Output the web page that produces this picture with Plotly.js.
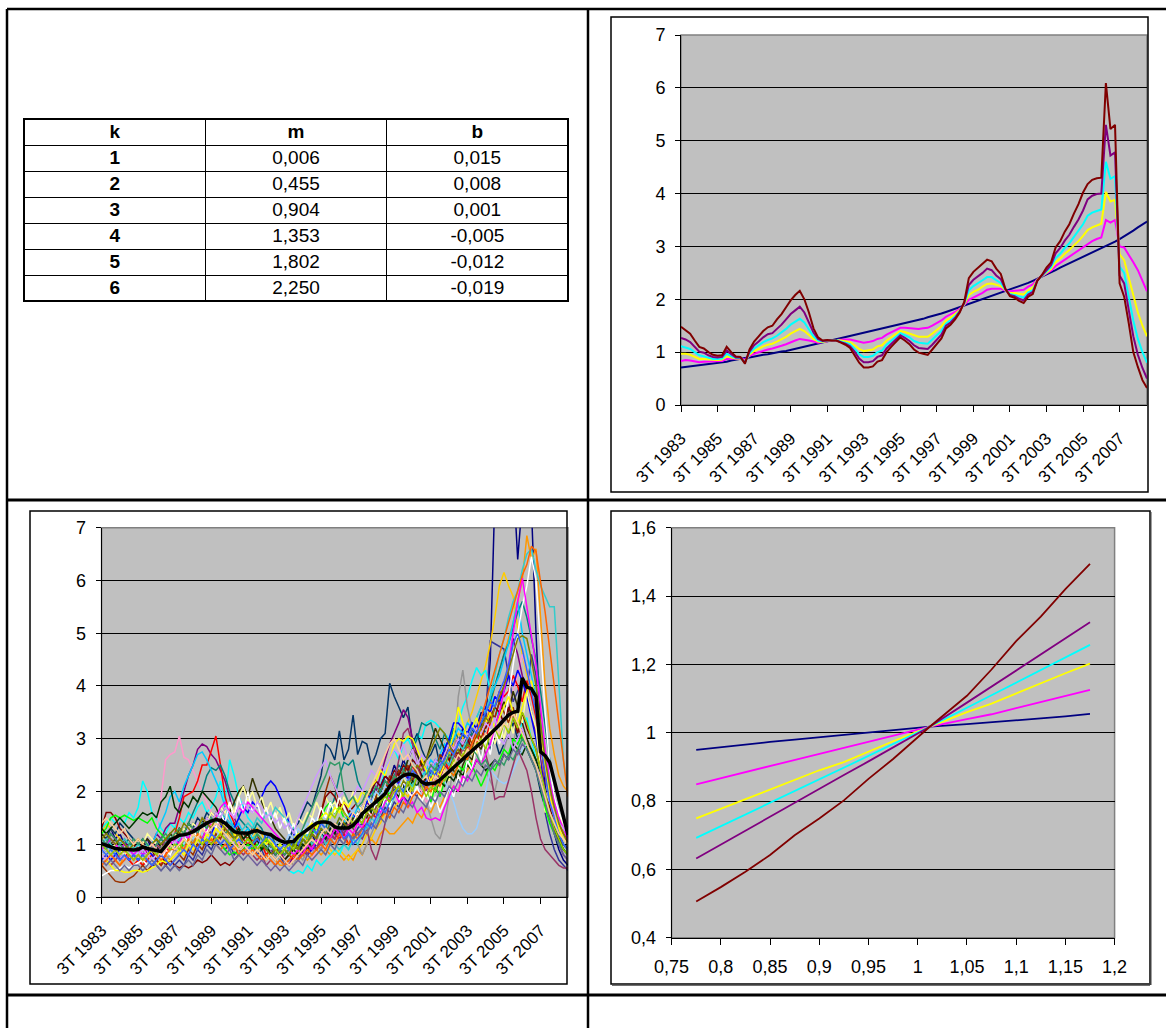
<!DOCTYPE html>
<html>
<head>
<meta charset="utf-8">
<script src="https://cdn.plot.ly/plotly-3.0.1.min.js"></script>
<style>
  html, body { margin: 0; padding: 0; background: #ffffff; }
  #page { width: 1166px; height: 1028px; }
</style>
</head>
<body>
<div id="page"></div>
<script>
// ---------- parameter table ----------
const tableHeader = ['k', 'm', 'b'];
const kVals = [1, 2, 3, 4, 5, 6];
const mVals = [0.006, 0.455, 0.904, 1.353, 1.802, 2.250];
const bVals = [0.015, 0.008, 0.001, -0.005, -0.012, -0.019];

// ---------- quarterly categories: 3T 1983 .. 1T 2009 ----------
const quarters = [];
for (let y = 1983; y <= 2009; y++) {
  for (let q = 1; q <= 4; q++) {
    if ((y === 1983 && q < 3) || (y === 2009 && q > 1)) continue;
    quarters.push(q + 'T ' + y);
  }
}
const timeTicks = ['3T 1983','3T 1985','3T 1987','3T 1989','3T 1991','3T 1993','3T 1995',
                   '3T 1997','3T 1999','3T 2001','3T 2003','3T 2005','3T 2007'];

// ---------- transformed series, k = 1..6 ----------
const seriesK1 = [0.71,0.72,0.73,0.74,0.75,0.76,0.78,0.79,0.80,0.81,0.82,0.84,
  0.86,0.87,0.89,0.90,0.92,0.93,0.95,0.96,0.98,0.99,1.01,1.02,
  1.04,1.06,1.08,1.10,1.12,1.14,1.16,1.18,1.20,1.22,1.24,1.26,
  1.28,1.30,1.32,1.34,1.36,1.38,1.40,1.42,1.44,1.46,1.48,1.50,
  1.53,1.55,1.57,1.59,1.61,1.63,1.66,1.68,1.71,1.73,1.76,1.79,
  1.82,1.85,1.88,1.91,1.94,1.97,2.00,2.03,2.06,2.09,2.12,2.15,
  2.18,2.21,2.24,2.27,2.31,2.35,2.39,2.43,2.46,2.50,2.55,2.60,
  2.64,2.68,2.72,2.76,2.80,2.84,2.88,2.92,2.96,3.00,3.04,3.09,
  3.14,3.19,3.24,3.30,3.36,3.42,3.47];
const seriesK2 = [0.83,0.85,0.84,0.83,0.81,0.82,0.82,0.82,0.82,0.83,0.87,0.87,
  0.87,0.88,0.86,0.93,0.97,1.00,1.03,1.05,1.07,1.09,1.12,1.15,
  1.19,1.22,1.25,1.24,1.22,1.20,1.18,1.19,1.21,1.22,1.23,1.24,
  1.24,1.24,1.22,1.19,1.18,1.19,1.21,1.25,1.27,1.33,1.37,1.42,
  1.46,1.46,1.45,1.44,1.44,1.45,1.46,1.50,1.55,1.60,1.67,1.71,
  1.76,1.82,1.89,1.99,2.03,2.07,2.12,2.18,2.20,2.20,2.20,2.16,
  2.15,2.16,2.17,2.18,2.24,2.28,2.38,2.44,2.49,2.54,2.63,2.69,
  2.75,2.80,2.86,2.93,2.99,3.05,3.10,3.14,3.17,3.50,3.45,3.50,
  3.00,2.98,2.85,2.70,2.55,2.35,2.15];
const seriesK3 = [0.97,0.97,0.95,0.91,0.87,0.87,0.86,0.85,0.85,0.86,0.92,0.90,
  0.88,0.88,0.83,0.95,1.02,1.06,1.11,1.14,1.16,1.20,1.24,1.29,
  1.35,1.40,1.44,1.40,1.33,1.25,1.20,1.19,1.21,1.22,1.23,1.22,
  1.21,1.19,1.13,1.06,1.02,1.03,1.05,1.11,1.13,1.22,1.28,1.34,
  1.40,1.38,1.35,1.31,1.29,1.29,1.29,1.35,1.42,1.49,1.60,1.65,
  1.72,1.80,1.90,2.08,2.14,2.18,2.24,2.29,2.30,2.28,2.25,2.17,
  2.12,2.12,2.10,2.09,2.17,2.22,2.37,2.44,2.51,2.57,2.70,2.77,
  2.86,2.93,3.02,3.10,3.20,3.31,3.36,3.40,3.43,4.03,3.85,3.88,
  2.85,2.74,2.40,2.05,1.75,1.50,1.30];
const seriesK4 = [1.11,1.09,1.06,1.00,0.94,0.92,0.90,0.87,0.87,0.88,0.97,0.92,
  0.89,0.89,0.81,0.98,1.07,1.13,1.19,1.23,1.26,1.31,1.37,1.44,
  1.52,1.58,1.63,1.56,1.44,1.30,1.22,1.20,1.22,1.22,1.23,1.20,
  1.18,1.15,1.06,0.96,0.91,0.91,0.93,1.00,1.03,1.14,1.21,1.29,
  1.36,1.32,1.28,1.21,1.18,1.17,1.16,1.24,1.32,1.40,1.54,1.60,
  1.68,1.78,1.92,2.17,2.25,2.30,2.36,2.42,2.42,2.36,2.31,2.18,
  2.10,2.08,2.05,2.03,2.13,2.17,2.36,2.45,2.53,2.61,2.78,2.86,
  2.97,3.06,3.18,3.29,3.42,3.58,3.64,3.67,3.70,4.60,4.28,4.33,
  2.62,2.50,2.05,1.60,1.25,1.00,0.80];
const seriesK5 = [1.27,1.24,1.19,1.10,1.01,0.99,0.94,0.91,0.90,0.91,1.03,0.96,
  0.90,0.90,0.80,1.01,1.13,1.20,1.28,1.34,1.36,1.44,1.52,1.62,
  1.72,1.79,1.86,1.75,1.57,1.37,1.25,1.21,1.22,1.22,1.22,1.19,
  1.16,1.11,1.01,0.88,0.81,0.81,0.83,0.91,0.94,1.07,1.16,1.25,
  1.32,1.27,1.21,1.13,1.08,1.07,1.06,1.14,1.23,1.33,1.50,1.56,
  1.65,1.77,1.93,2.27,2.37,2.43,2.50,2.58,2.55,2.45,2.38,2.19,
  2.08,2.06,2.01,1.98,2.09,2.14,2.36,2.45,2.56,2.65,2.87,2.97,
  3.11,3.22,3.37,3.51,3.68,3.89,3.96,3.99,4.00,5.30,4.72,4.78,
  2.45,2.30,1.80,1.30,0.95,0.70,0.50];
const seriesK6 = [1.48,1.42,1.35,1.22,1.10,1.07,1.00,0.95,0.93,0.94,1.10,1.00,
  0.92,0.91,0.78,1.05,1.20,1.30,1.40,1.47,1.50,1.62,1.72,1.85,
  1.98,2.08,2.16,2.00,1.75,1.45,1.28,1.22,1.23,1.22,1.22,1.18,
  1.14,1.08,0.95,0.80,0.71,0.71,0.73,0.82,0.85,1.00,1.10,1.20,
  1.28,1.22,1.15,1.05,0.99,0.97,0.95,1.05,1.15,1.26,1.45,1.52,
  1.62,1.75,1.95,2.40,2.52,2.60,2.68,2.75,2.72,2.58,2.48,2.20,
  2.06,2.03,1.97,1.93,2.05,2.10,2.35,2.46,2.60,2.70,2.98,3.10,
  3.28,3.42,3.62,3.80,4.02,4.18,4.26,4.29,4.30,6.09,5.22,5.30,
  2.30,2.05,1.55,1.00,0.72,0.47,0.32];

// ---------- response curves ----------
const ratioX = [0.775,0.8,0.825,0.85,0.875,0.9,0.925,0.95,0.975,1.0125,1.05,1.075,1.1,1.125,1.15,1.175];
const curveK1 = [0.950,0.958,0.967,0.973,0.980,0.987,0.993,1.000,1.006,1.018,1.025,1.030,1.036,1.042,1.048,1.055];
const curveK2 = [0.849,0.867,0.885,0.903,0.921,0.939,0.957,0.975,0.993,1.018,1.040,1.054,1.072,1.090,1.107,1.125];
const curveK3 = [0.749,0.777,0.806,0.834,0.862,0.890,0.914,0.945,0.975,1.018,1.060,1.085,1.115,1.145,1.174,1.202];
const curveK4 = [0.692,0.726,0.761,0.795,0.829,0.864,0.898,0.932,0.967,1.018,1.073,1.110,1.147,1.184,1.220,1.257];
const curveK5 = [0.632,0.673,0.713,0.754,0.795,0.835,0.876,0.916,0.957,1.018,1.088,1.135,1.182,1.229,1.276,1.323];
const curveK6 = [0.506,0.548,0.593,0.642,0.700,0.749,0.802,0.865,0.923,1.018,1.108,1.185,1.268,1.340,1.420,1.494];
const ratioTicks = [0.75,0.8,0.85,0.9,0.95,1,1.05,1.1,1.15,1.2];
const ratioTickText = ['0,75','0,8','0,85','0,9','0,95','1','1,05','1,1','1,15','1,2'];
const levelTicks = [0.4,0.6,0.8,1,1.2,1.4,1.6];
const levelTickText = ['0,4','0,6','0,8','1','1,2','1,4','1,6'];

// ---------- individual regional series and their mean ----------
const meanSeries = [1.01,0.98,0.94,0.92,0.91,0.90,0.89,0.89,
  0.90,0.95,0.92,0.90,0.88,0.86,0.97,1.08,
  1.12,1.17,1.18,1.20,1.24,1.30,1.34,1.40,
  1.44,1.47,1.45,1.40,1.32,1.24,1.22,1.21,
  1.21,1.24,1.26,1.22,1.20,1.18,1.12,1.07,
  1.04,1.04,1.05,1.15,1.21,1.28,1.34,1.40,
  1.42,1.42,1.40,1.33,1.31,1.31,1.31,1.36,
  1.45,1.58,1.65,1.72,1.80,1.88,1.96,2.10,
  2.18,2.25,2.30,2.33,2.32,2.28,2.18,2.14,
  2.15,2.16,2.22,2.30,2.38,2.45,2.55,2.62,
  2.70,2.78,2.85,2.92,3.00,3.08,3.17,3.26,
  3.36,3.45,3.50,3.52,4.15,3.98,3.95,3.80,
  2.75,2.68,2.55,2.20,1.85,1.55,1.18];

const s01 = [1.3,1.2,1.3,1.1,1.2,1.0,1.1,1.0, 0.9,1.0,1.1,0.9,1.0,0.8,0.9,1.1, 1.2,1.1,1.3,1.2,1.4,1.3,1.5,1.4, 1.6,1.5,1.4,1.2,1.3,1.1,1.0,1.1, 1.2,1.0,1.1,0.9,1.0,0.8,0.9,0.8, 0.7,0.8,0.9,1.0,0.9,1.1,1.2,1.0, 1.3,1.2,1.4,1.3,1.2,1.5,1.4,1.6, 1.5,1.7,1.9,1.8,2.1,2.0,2.3,2.2, 2.5,2.3,2.6,2.4,2.2,2.5,2.3,2.1, 2.4,2.3,2.6,2.8,2.7,3.0,2.9,3.2, 3.1,3.3,3.2,3.5,3.4,4.5,7.6,8.4, 9.0,8.8,8.0,6.4,7.8,8.6,7.4,5.0, 3.2,2.1,1.6,1.2,0.9,0.7,0.6];
const s02 = [1.0,0.9,0.8,0.9,0.7,0.8,0.7,0.8, 0.7,0.6,0.7,0.6,0.6,0.5,0.6,0.5, 0.6,0.7,0.6,0.8,0.7,0.9,0.8,1.0, 0.9,1.1,1.0,0.9,1.0,0.8,0.9,1.0, 0.9,1.0,0.8,0.9,0.7,0.8,0.7,0.8, 0.6,0.7,0.8,0.7,0.9,0.8,0.9,1.0, 0.9,1.1,1.0,1.2,1.1,1.3,1.2,1.1, 1.3,1.4,1.3,1.5,1.6,1.5,1.7,1.6, 1.8,1.7,1.9,1.8,2.0,1.9,2.2,2.1, 2.3,2.4,2.3,2.6,2.5,2.8,2.7,2.9, 3.0,3.2,3.1,3.3,3.4,4.85,4.8,4.75, 4.7,4.2,3.7,3.9,4.1,3.9,4.6,4.2, 2.5,1.6,1.2,0.9,0.7,0.6,0.5];
const s03 = [0.6,0.7,0.6,0.7,0.6,0.8,0.7,0.6, 0.7,0.6,0.8,0.7,0.6,0.7,0.8,0.7, 0.8,0.9,0.8,1.0,0.9,1.1,1.0,1.2, 1.1,1.0,1.2,1.1,1.0,0.9,1.0,0.9, 0.9,0.8,0.9,0.8,0.7,0.8,0.7,0.6, 0.6,0.7,0.6,0.7,0.8,0.7,0.8,0.9, 0.8,0.9,0.8,0.9,0.8,0.7,0.8,0.7, 0.9,0.8,1.0,1.1,1.0,1.2,1.3,1.2, 1.2,1.3,1.4,1.5,1.4,1.6,1.5,1.7, 1.6,1.8,1.7,1.9,2.0,2.1,2.0,2.3, 2.4,2.6,2.8,3.0,3.3,3.6,4.0,4.3, 4.6,4.9,5.2,5.6,6.0,6.85,6.4,6.6, 5.2,4.0,3.2,2.7,2.3,2.1,2.0];
const s04 = [1.2,1.4,1.3,1.2,1.1,1.0,1.1,0.9, 0.9,1.0,0.8,0.9,0.8,0.7,0.8,0.9, 1.0,0.9,1.1,1.0,1.2,1.1,1.3,1.2, 1.4,1.3,1.2,1.3,1.1,1.2,1.0,1.1, 1.2,1.1,1.3,1.2,1.0,1.1,0.9,1.0, 0.9,0.8,0.9,1.0,0.9,1.1,1.0,0.9, 1.1,1.0,0.9,0.8,0.9,0.8,0.7,0.8, 0.9,1.0,1.2,1.1,1.3,1.4,1.6,1.5, 1.7,1.8,2.0,1.9,2.1,2.3,2.2,2.4, 2.3,2.5,2.6,2.4,2.7,2.9,3.1,3.0, 3.3,3.5,3.8,4.1,4.4,4.8,5.3,5.9, 6.15,5.9,5.7,5.1,4.6,4.2,3.9,3.6, 3.2,2.6,2.1,1.7,1.4,1.2,1.1];
const s05 = [1.3,1.4,1.5,1.4,1.5,1.4,1.6,1.5, 1.7,2.2,2.0,1.6,1.5,1.3,1.2,1.4, 1.3,1.5,1.4,1.6,1.5,1.7,1.8,1.6, 1.7,1.9,2.2,1.8,2.6,2.3,1.9,1.7, 1.5,1.4,1.2,1.1,1.0,0.9,0.8,0.7, 0.6,0.5,0.45,0.5,0.45,0.6,0.5,0.7, 0.6,0.7,0.8,0.9,0.8,1.0,0.9,1.1, 1.2,1.1,1.4,1.6,1.9,2.1,2.4,2.6, 2.8,2.6,2.9,3.0,2.8,3.1,3.0,3.3, 3.35,3.3,3.2,3.1,3.0,3.2,3.3,3.6, 3.8,4.1,4.35,4.2,4.3,3.9,3.6,3.4, 3.3,3.2,3.4,3.1,3.3,3.4,3.0,2.6, 2.3,1.9,1.6,1.3,1.0,0.9,0.8];
const s06 = [0.9,1.0,0.9,0.8,0.9,0.8,0.7,0.8, 0.7,0.8,0.7,0.6,0.7,0.8,0.7,0.8, 0.9,0.8,1.0,0.9,1.1,1.0,0.9,1.1, 1.2,1.1,1.3,1.2,1.0,1.1,1.2,1.0, 1.1,1.0,0.9,1.0,0.8,0.9,0.8,0.7, 0.6,0.7,0.6,0.8,0.7,0.9,0.8,1.0, 0.9,1.1,1.0,1.2,1.1,1.0,1.2,1.1, 1.0,0.8,1.0,1.2,1.4,1.6,1.8,2.0, 2.2,2.0,2.3,2.1,2.4,2.2,2.0,1.8, 1.5,1.2,1.1,1.4,1.9,2.6,3.8,4.3, 3.6,3.2,3.0,2.7,2.4,2.2,2.0,2.4, 2.8,3.1,2.9,3.3,3.0,2.8,2.6,2.5, 2.6,2.3,2.0,1.7,1.5,1.3,1.2];
const s07 = [1.2,1.1,1.3,1.2,1.4,1.3,1.2,1.1, 1.0,1.1,0.9,1.0,1.1,0.9,1.0,1.2, 1.1,1.3,1.2,1.4,1.3,1.5,1.4,1.6, 1.5,1.4,1.6,1.5,1.3,1.4,1.2,1.1, 1.2,1.0,1.1,0.9,1.0,0.8,0.9,1.0, 0.9,1.1,1.3,1.4,1.6,1.8,1.7,2.0, 2.3,2.9,2.8,2.6,3.15,2.6,2.8,3.45, 2.7,2.95,2.9,2.5,2.7,3.0,3.1,4.05, 3.8,3.6,3.4,3.6,2.9,3.1,2.8,2.6, 2.7,2.9,2.5,2.8,3.0,2.7,2.9,3.1, 2.9,3.2,3.0,3.3,3.1,2.8,3.0,2.7, 2.9,3.1,3.3,3.0,3.2,2.8,2.6,2.4, 2.0,1.7,1.5,1.3,1.1,1.0,0.9];
const s08 = [0.8,0.7,0.8,0.9,0.8,0.7,0.8,0.9, 0.8,0.9,1.0,0.9,1.2,1.9,2.6,2.7, 2.75,3.05,2.65,2.6,2.4,2.2,2.0,1.8, 1.6,1.5,1.3,1.4,1.2,1.1,1.0,0.9, 0.8,0.7,0.6,0.7,0.6,0.5,0.6,0.5, 0.6,0.5,0.6,0.7,0.6,0.8,0.7,0.9, 1.0,0.9,1.1,1.0,1.2,1.1,1.3,1.2, 1.4,1.3,1.5,1.7,1.6,1.8,2.0,1.9, 2.1,2.3,2.2,2.0,1.9,2.1,2.0,1.8, 1.9,2.1,2.0,2.2,2.4,2.3,2.5,2.7, 2.6,2.8,2.7,2.9,3.1,3.0,3.2,3.4, 3.3,3.6,3.9,4.2,4.6,4.3,4.0,3.6, 3.0,2.4,1.9,1.5,1.2,1.0,0.9];
const s09 = [1.1,1.0,1.2,1.1,1.0,1.1,0.9,1.0, 0.9,1.0,1.1,1.0,1.2,1.1,1.3,1.4, 1.4,1.7,2.0,2.3,2.5,2.8,2.9,2.85, 2.7,2.6,2.4,2.2,1.9,1.5,1.3,1.2, 1.1,1.3,1.2,1.0,1.1,0.9,0.8,0.9, 0.7,0.6,0.8,0.7,0.9,0.8,1.0,0.9, 1.1,1.0,1.2,1.1,1.3,1.2,1.4,1.3, 1.5,1.6,1.8,1.7,2.0,2.3,2.6,2.9, 3.1,3.3,3.55,3.4,3.0,2.7,2.5,2.3, 2.1,2.3,2.2,2.5,2.4,2.7,2.6,2.8, 2.9,3.1,3.0,3.2,3.3,3.5,3.4,3.7, 4.0,4.3,4.9,4.6,4.2,3.9,3.5,3.1, 2.6,2.0,1.6,1.3,1.0,0.8,0.7];
const s10 = [0.8,0.9,0.8,0.7,0.8,0.9,0.7,0.6, 0.7,0.6,0.7,0.8,0.7,0.6,0.8,1.0, 1.2,1.5,1.9,1.95,2.0,2.2,2.5,2.5, 2.8,3.05,2.5,1.9,1.6,1.4,1.2,1.1, 1.0,1.1,0.9,1.0,0.8,0.9,1.0,0.8, 0.7,0.8,0.7,0.9,0.8,1.0,1.1,1.0, 1.2,1.1,1.3,1.2,1.1,1.2,1.0,1.1, 1.2,1.3,1.4,1.6,1.5,1.8,2.0,2.2, 2.3,2.1,2.4,2.2,2.5,2.3,2.6,2.4, 2.2,2.0,2.3,2.6,2.4,2.8,3.0,2.9, 2.8,3.1,2.9,3.2,3.0,3.3,3.6,3.9, 3.8,3.9,4.2,4.0,3.7,4.1,3.8,3.4, 2.9,2.3,1.9,1.6,1.4,1.2,1.1];
const s11 = [1.0,0.9,1.1,1.0,0.9,1.0,1.1,0.9, 1.0,0.9,0.8,0.9,1.0,1.1,1.0,1.2, 1.1,1.3,1.2,1.4,1.6,1.8,2.0,2.3, 2.45,2.4,2.5,2.3,2.0,1.8,1.5,1.4, 1.3,1.2,1.4,1.3,1.1,1.2,1.0,1.1, 1.0,0.9,1.1,1.0,1.2,1.1,1.3,1.2, 1.4,1.3,1.6,1.9,2.3,2.55,2.5,2.6, 2.2,2.0,1.9,2.1,1.8,2.0,2.2,2.1, 2.3,2.5,2.4,2.6,2.8,3.0,3.3,3.25, 3.3,3.0,2.8,3.1,2.9,3.2,3.0,2.8, 2.9,3.1,3.0,3.3,3.5,3.7,4.0,4.3, 4.6,4.8,5.1,5.4,5.6,5.3,4.9,4.5, 3.9,3.2,2.6,2.2,1.8,1.5,1.3];
const s12 = [0.9,1.0,0.9,0.8,0.9,1.0,0.9,0.8, 0.9,0.8,0.9,1.0,1.2,1.4,1.6,1.9, 2.0,1.8,2.1,2.3,2.5,2.7,2.75,2.6, 2.4,2.2,2.0,1.7,1.5,1.3,1.4,1.2, 1.3,1.1,1.2,1.0,1.1,0.9,1.0,0.9, 0.8,0.9,1.0,0.9,1.1,1.0,1.2,1.1, 1.3,1.2,1.4,1.3,1.5,1.4,1.6,1.5, 1.7,1.6,1.8,2.0,1.9,2.1,2.3,2.2, 2.4,2.3,2.5,2.4,2.6,2.5,2.3,2.4, 2.6,2.5,2.7,2.9,2.8,3.0,3.2,3.1, 3.3,3.2,3.4,3.6,3.5,3.8,4.0,4.2, 4.5,4.8,5.2,5.6,5.0,4.6,4.2,3.8, 3.3,2.7,2.2,1.8,1.5,1.3,1.1];
const s13 = [1.2,1.1,1.0,1.1,0.9,1.0,0.9,1.0, 0.9,1.0,1.1,1.0,0.9,1.0,1.1,1.2, 1.1,1.3,1.2,1.4,1.3,1.2,1.4,1.5, 1.4,1.6,1.5,1.7,1.6,1.8,2.0,2.1, 1.9,2.25,2.0,1.8,1.6,1.5,1.3,1.2, 1.1,1.0,0.9,1.0,0.8,0.9,1.0,1.1, 1.0,1.2,1.1,1.3,1.2,1.4,1.3,1.5, 1.4,1.6,1.5,1.7,1.9,1.8,2.1,2.0, 2.2,2.4,2.3,2.6,2.8,2.7,2.5,2.6, 2.9,3.2,3.0,2.8,2.6,2.4,2.2,2.5, 2.7,2.6,2.9,2.8,3.1,3.0,3.2,3.5, 3.7,3.5,3.9,3.6,3.3,3.0,2.8,2.6, 2.2,1.8,1.5,1.3,1.1,1.0,0.9];
const s14 = [0.7,0.8,0.7,0.8,0.9,0.8,0.7,0.8, 0.7,0.8,0.9,0.8,0.7,0.8,0.9,1.0, 0.9,1.1,1.0,1.2,1.3,1.2,1.4,1.3, 1.2,1.4,1.3,1.5,1.4,1.3,1.5,1.7, 1.6,1.8,1.7,1.9,2.1,2.2,2.1,1.9, 1.7,1.4,1.2,1.0,0.9,0.8,0.9,1.0, 1.2,1.1,1.3,1.2,1.4,1.3,1.5,1.6, 1.4,1.6,1.8,2.0,2.2,2.1,2.3,2.2, 2.0,2.2,2.1,2.3,2.2,2.4,2.3,2.1, 2.4,2.6,2.5,2.8,3.0,3.3,3.3,3.2, 3.1,3.3,3.2,3.4,3.6,3.5,3.8,3.7, 3.9,4.2,4.0,4.3,4.1,3.8,3.4,3.0, 2.5,2.0,1.6,1.3,1.1,0.9,0.8];
const s15 = [0.9,0.8,0.9,1.0,0.9,0.8,0.9,1.0, 1.1,1.0,1.2,1.1,1.0,0.9,1.0,1.1, 1.2,1.1,1.3,1.2,1.4,1.3,1.5,1.4, 1.6,1.5,1.7,1.6,1.8,1.6,1.9,2.1, 1.8,2.0,1.7,1.9,1.6,1.8,1.5,1.7, 1.4,1.6,1.3,1.5,1.4,1.6,1.5,1.8, 1.6,1.9,1.7,1.8,1.6,1.9,1.7,2.0, 1.8,1.6,1.9,1.7,2.0,1.8,2.1,1.9, 2.2,2.0,2.3,2.1,2.2,2.0,1.8,2.1, 1.9,2.2,2.0,2.4,2.2,2.6,2.4,2.8, 2.6,3.0,2.7,3.1,2.8,3.2,2.9,3.3, 3.0,3.4,3.1,3.6,3.3,3.9,3.5,3.2, 2.4,1.6,1.9,1.4,1.6,1.3,1.2];
const s16 = [0.6,0.5,0.4,0.3,0.28,0.28,0.35,0.4, 0.5,0.6,0.5,0.6,0.7,0.6,0.7,0.6, 0.7,0.8,0.7,0.9,0.8,1.0,0.9,1.1, 1.0,1.2,1.1,1.3,1.2,1.1,1.3,1.2, 1.1,1.3,1.2,1.0,1.1,0.9,1.0,0.8, 0.9,0.8,1.0,0.9,1.1,1.0,1.2,1.1, 1.6,2.0,2.3,2.1,1.8,1.6,1.5,1.4, 1.6,1.4,1.7,1.6,1.9,2.1,2.0,2.3, 2.2,2.4,2.3,2.5,2.2,2.4,2.1,2.3, 2.5,2.4,2.7,2.6,2.9,2.8,2.6,2.9, 3.1,2.9,3.2,3.0,3.3,3.5,3.4,3.7, 3.5,3.3,3.6,3.2,3.0,2.9,2.7,2.5, 2.1,1.8,1.5,1.3,1.1,1.0,0.9];
const s17 = [1.3,1.6,1.6,1.5,1.3,1.2,1.1,1.0, 0.9,1.0,0.8,0.9,0.7,0.8,0.6,0.7, 0.6,0.55,0.6,0.55,0.6,0.7,0.65,0.7, 0.8,0.7,0.6,0.65,0.6,0.7,0.8,0.9, 1.0,0.9,1.1,1.0,0.9,1.0,0.8,0.9, 0.8,0.9,1.0,0.9,1.1,1.0,1.2,1.4, 1.6,1.9,2.0,1.9,1.7,1.8,1.6,1.7, 1.8,1.7,1.9,2.0,2.2,2.1,2.3,2.2, 2.4,2.3,2.5,2.4,2.6,2.5,2.3,2.2, 2.4,2.3,2.5,2.7,2.6,2.8,2.7,2.9, 3.0,2.8,3.1,3.3,3.2,3.4,3.6,3.5, 3.3,3.6,3.4,3.1,3.5,3.2,3.0,2.8, 2.4,2.0,1.7,1.4,1.2,1.0,0.9];
const s18 = [1.2,1.3,1.5,1.55,1.5,1.55,1.5,1.45, 1.5,1.45,1.4,1.5,1.3,1.2,1.1,1.0, 1.1,0.9,1.0,1.1,1.0,1.2,1.1,1.3, 1.2,1.1,1.0,0.9,0.8,0.85,0.8,0.9, 1.0,0.9,1.0,0.9,1.1,1.0,0.9,1.0, 0.9,0.8,1.0,0.9,1.1,1.0,1.2,1.3, 1.5,1.7,1.8,1.6,1.7,1.5,1.4,1.3, 1.5,1.4,1.6,1.5,1.7,1.9,1.8,2.0, 1.9,2.1,2.0,2.2,2.1,2.3,2.2,2.0, 1.8,2.1,1.9,2.2,2.4,2.3,2.5,2.4, 2.6,2.5,2.3,2.1,2.3,2.5,2.4,2.6, 2.8,2.7,3.0,2.9,3.1,2.8,2.6,2.4, 2.1,1.7,1.4,1.2,1.0,0.9,0.8];
const s19 = [1.3,1.2,1.3,1.4,1.5,1.4,1.3,1.4, 1.5,1.6,1.55,1.6,1.5,1.8,1.9,2.1, 1.7,1.6,1.8,1.7,1.9,1.8,2.0,1.9, 1.8,1.7,1.5,1.4,1.3,1.2,1.3,1.1, 1.2,1.0,1.1,0.9,1.0,0.8,0.9,0.8, 0.7,0.8,0.9,0.8,1.0,0.9,1.1,1.0, 1.2,1.1,1.3,1.2,1.4,1.3,1.5,1.4, 1.6,1.5,1.7,1.6,1.8,1.7,1.9,1.8, 2.0,1.9,2.1,2.0,2.2,2.1,2.3,2.2, 2.1,2.0,2.2,2.1,2.3,2.2,2.4,2.3, 2.5,2.4,2.6,2.5,2.4,2.5,2.6,2.5, 2.7,2.6,2.9,2.8,2.7,2.9,2.8,2.6, 2.3,1.9,1.6,1.3,1.1,0.9,0.8];
const s20 = [0.8,0.9,0.8,0.7,0.8,0.7,0.8,0.9, 0.8,0.7,0.8,0.9,0.8,0.9,1.0,0.9, 1.0,1.1,1.0,1.2,1.1,1.3,1.2,1.1, 1.2,1.1,1.3,1.2,1.1,1.0,1.1,1.0, 0.9,1.0,0.9,1.1,1.0,0.9,1.0,1.1, 1.0,1.2,1.1,1.3,1.2,1.4,1.3,1.5, 1.4,1.6,1.5,1.7,1.6,1.8,1.7,1.6, 1.8,1.7,1.9,1.8,2.0,1.9,2.1,2.0, 2.2,2.1,2.3,2.2,2.0,2.1,1.9,2.0, 2.2,2.1,2.3,2.2,2.0,1.8,1.5,1.3, 1.2,1.2,1.3,1.6,2.0,2.4,2.3,2.2, 2.15,2.2,2.4,2.6,2.8,2.9,2.7,2.5, 2.2,1.9,1.6,1.4,1.2,1.1,1.0];
const s21 = [0.6,0.7,0.6,0.7,0.8,0.7,0.8,0.7, 0.8,0.9,0.8,0.9,1.0,0.9,1.1,1.0, 1.1,1.0,1.2,1.1,1.3,1.2,1.1,1.3, 1.2,1.1,1.0,1.1,0.9,1.0,0.9,0.8, 0.9,0.8,0.7,0.8,0.6,0.7,0.6,0.7, 0.6,0.7,0.8,0.7,0.9,0.8,1.0,0.9, 1.1,1.0,1.2,1.1,1.3,1.2,1.4,1.3, 1.2,1.1,1.3,0.9,0.7,1.0,1.4,1.8, 2.2,2.6,3.1,3.2,2.9,2.5,2.2,2.0, 2.3,2.1,2.4,2.6,2.5,2.7,2.6,2.8, 2.7,2.9,2.8,3.0,2.7,2.4,1.85,1.9, 1.9,2.2,2.5,2.8,2.6,2.4,2.0,1.5, 1.1,0.9,0.8,0.7,0.6,0.55,0.55];
const s22 = [1.0,1.1,1.0,0.9,1.0,1.1,1.0,0.9, 1.0,0.9,1.0,0.9,0.8,0.9,1.0,0.9, 1.0,1.1,1.2,1.1,1.3,1.2,1.4,1.3, 1.5,1.4,1.6,1.5,1.4,1.3,1.2,1.3, 1.4,1.3,1.5,1.4,1.6,1.5,1.7,1.6, 1.5,1.4,1.3,1.2,1.1,1.2,1.0,1.1, 1.2,1.0,1.1,1.0,0.9,1.0,0.9,1.1, 1.0,1.2,1.3,1.5,1.4,1.6,1.8,1.7, 1.9,2.1,2.0,2.2,2.1,2.3,2.2,2.4, 2.3,2.5,2.4,2.6,2.5,2.7,2.9,2.8, 3.0,3.2,3.4,3.6,3.5,3.8,4.2,4.6, 4.9,5.3,5.6,5.8,6.2,6.5,6.6,6.2, 5.9,5.7,5.5,5.5,4.0,2.6,2.0];
const s23 = [0.4,0.45,0.5,0.5,0.55,0.6,0.55,0.6, 0.65,0.7,0.6,0.7,0.8,0.7,0.9,0.8, 1.0,0.9,1.2,1.0,1.3,1.1,1.4,1.2, 1.5,1.3,1.6,1.4,1.8,1.5,1.9,1.6, 2.0,1.6,1.8,1.5,1.7,1.4,1.6,1.3, 1.5,1.2,1.4,1.1,1.3,1.2,1.5,1.4, 1.7,1.5,1.8,1.6,1.9,1.7,1.5,1.4, 1.6,1.4,1.7,1.5,1.8,1.6,1.9,1.7, 2.0,1.8,2.2,2.0,1.9,2.1,1.8,2.0, 1.7,1.9,1.6,1.8,2.1,1.9,2.3,2.1, 2.6,2.4,2.9,2.6,3.0,2.7,3.2,2.9, 3.3,3.8,4.4,5.0,5.5,5.9,6.45,6.0, 4.8,3.5,2.5,1.9,1.6,1.4,1.2];
const s24 = [0.8,0.7,0.6,0.5,0.5,0.47,0.47,0.5, 0.5,0.47,0.5,0.55,0.6,0.7,0.65,0.7, 0.8,0.9,0.8,1.0,0.9,1.1,1.0,1.2, 1.1,1.3,1.2,1.4,1.3,1.2,1.1,1.0, 1.1,1.0,1.2,1.1,1.0,1.1,0.9,1.0, 0.9,1.0,1.1,1.2,1.1,1.3,1.4,1.3, 1.5,1.6,1.5,1.7,1.6,1.8,1.7,1.9, 1.8,2.0,1.9,2.1,2.2,2.4,2.3,2.6, 2.9,3.0,2.95,3.05,3.0,2.8,2.6,2.4, 2.2,2.4,2.3,2.5,2.8,3.1,3.6,3.3, 3.0,3.2,3.4,3.1,3.3,3.5,3.2,3.4, 3.6,3.8,3.5,3.3,3.6,3.9,4.1,3.7, 3.0,2.4,1.9,1.6,1.3,1.1,1.0];
const s25 = [0.9,1.0,1.1,1.0,0.9,1.0,0.9,0.8, 0.9,0.8,0.9,1.0,0.9,0.8,0.9,1.0, 1.1,1.0,1.2,1.1,1.3,1.2,1.1,1.3, 1.4,1.5,1.7,1.8,1.6,1.5,1.7,1.6, 1.8,1.7,1.6,1.5,1.4,1.3,1.2,1.1, 1.0,0.9,0.8,0.9,0.8,1.0,0.9,1.1, 1.0,1.2,1.1,1.3,1.2,1.1,1.3,1.2, 1.4,1.3,1.6,1.5,1.7,1.6,1.8,1.9, 2.0,1.8,1.9,1.7,1.8,1.6,1.7,1.5, 1.46,1.5,1.45,1.7,1.9,2.1,2.0,2.3, 2.2,2.4,2.6,2.5,2.7,2.9,3.2,3.5, 3.9,4.4,5.0,5.6,6.05,5.5,5.0,4.4, 3.6,2.8,2.2,1.8,1.5,1.3,1.1];
const s26 = [0.8,0.7,0.8,0.9,0.8,0.7,0.8,0.7, 0.8,0.9,0.8,0.7,0.8,0.9,1.0,1.1, 1.0,1.2,1.1,1.3,1.2,1.4,1.3,1.5, 1.4,1.6,1.5,1.7,1.6,1.5,1.7,1.8, 1.7,1.6,1.8,1.7,1.5,1.6,1.4,1.5, 1.3,1.4,1.2,1.5,1.7,1.9,2.1,2.3, 2.45,2.6,2.3,2.1,1.9,2.0,1.8,1.9, 2.1,2.0,2.2,2.4,2.3,2.5,2.4,2.6, 2.8,2.7,2.9,2.6,2.8,2.5,2.7,2.6, 2.4,2.6,2.5,2.7,2.9,2.8,3.0,2.9, 3.1,3.0,3.2,3.1,3.3,3.2,3.4,3.0, 2.9,3.1,2.8,3.0,3.2,2.9,2.7,2.5, 2.3,2.0,1.8,1.6,1.4,1.3,1.2];
const s27 = [1.1,1.0,1.2,1.1,1.0,0.9,1.0,1.1, 1.0,1.1,1.0,0.9,1.0,1.1,1.2,1.1, 1.2,1.3,1.2,1.4,1.3,1.2,1.4,1.3, 1.5,1.4,1.3,1.2,1.3,1.1,1.2,1.0, 1.1,1.0,1.2,1.1,0.9,1.0,0.8,0.9, 0.8,0.9,1.0,1.1,1.3,1.5,1.7,1.9, 2.1,2.3,2.55,2.5,2.55,2.0,1.8,1.9, 1.7,1.8,2.0,1.9,2.1,2.0,2.2,2.1, 2.3,2.2,2.4,2.3,2.5,2.4,2.2,2.3, 2.5,2.4,2.6,2.5,2.7,2.6,2.5,2.7, 2.6,2.8,2.7,2.5,2.6,2.4,2.5,2.6, 2.5,2.7,2.6,2.8,3.0,2.9,2.7,2.5, 2.2,1.9,1.6,1.4,1.2,1.0,0.9];
const s28 = [1.1,1.2,1.1,1.0,1.1,1.0,0.9,1.0, 1.1,1.0,0.9,1.0,1.1,1.0,1.1,1.2, 1.3,1.2,1.4,1.3,1.2,1.3,1.5,1.4, 1.3,1.5,1.4,1.3,1.2,1.1,1.2,1.0, 1.1,1.0,0.9,1.0,0.9,0.8,0.9,0.8, 0.9,0.8,1.0,0.9,1.1,1.0,1.2,1.1, 1.3,1.2,1.4,1.3,1.5,1.4,1.3,1.4, 1.5,1.4,1.6,1.5,1.7,1.8,2.0,1.9, 2.1,2.0,2.2,2.1,2.3,2.5,2.4,2.6, 2.8,3.0,3.2,3.1,2.9,2.7,2.8,2.6, 2.9,2.8,3.0,3.2,3.4,3.3,3.6,3.8, 4.0,4.3,4.6,4.9,4.95,4.9,4.5,4.0, 3.3,2.6,2.1,1.7,1.4,1.2,1.0];
const s29 = [0.6,0.7,0.8,0.7,0.6,0.7,0.8,0.7, 0.8,0.7,0.8,0.9,0.8,0.7,0.8,0.9, 0.9,1.0,0.9,1.1,1.0,1.2,1.1,1.0, 1.1,1.0,0.9,1.0,0.9,1.0,0.8,0.9, 0.8,0.9,0.8,0.7,0.8,0.7,0.6,0.7, 0.6,0.7,0.8,0.7,0.8,0.9,0.8,0.9, 1.0,0.9,1.1,1.0,1.2,1.1,1.0,1.2, 1.1,1.3,1.2,1.4,1.3,1.5,1.6,1.5, 1.7,1.6,1.8,1.7,1.9,2.0,1.9,2.1, 2.0,2.2,2.1,2.3,2.4,2.3,2.5,2.7, 2.6,2.9,3.1,3.4,3.7,4.0,4.3,4.6, 4.9,5.2,5.5,5.8,6.1,6.3,6.65,6.55, 6.0,5.4,4.7,4.0,3.2,2.5,1.9];
const s30 = [0.7,0.6,0.7,0.6,0.5,0.6,0.5,0.6, 0.6,0.5,0.6,0.7,0.6,0.5,0.6,0.5, 0.6,0.5,0.6,0.7,0.6,0.8,0.7,0.9, 0.8,1.0,0.9,0.8,0.9,0.7,0.8,0.7, 0.8,0.7,0.6,0.7,0.6,0.5,0.6,0.5, 0.6,0.5,0.6,0.7,0.6,0.8,0.7,0.8, 0.9,0.8,1.0,0.9,1.1,1.0,1.2,1.1, 1.2,1.3,1.2,1.4,1.3,1.5,1.4,1.6, 1.5,1.7,1.6,1.8,1.7,1.9,1.8,1.7, 1.9,1.8,2.0,1.9,2.1,2.0,2.2,2.1, 2.3,2.2,2.4,2.3,2.5,2.4,2.6,2.5, 2.7,2.6,2.8,2.7,2.9,2.8,2.6,2.4, 2.1,1.8,1.5,1.2,1.0,0.8,0.7];
const s31 = [0.9,0.8,0.9,0.8,0.7,0.8,0.7,0.8, 0.7,0.8,0.7,0.6,0.7,0.8,0.7,0.6, 0.7,0.8,0.9,0.8,1.0,0.9,1.1,1.0, 1.2,1.1,1.0,1.1,0.9,1.0,1.1,1.0, 0.9,1.0,1.1,1.0,1.2,1.1,1.0,0.9, 1.0,0.9,1.1,1.0,1.2,1.1,1.3,1.2, 1.4,1.3,1.2,1.4,1.3,1.1,1.2,1.0, 1.1,1.2,1.4,1.3,1.5,1.7,1.6,1.8, 1.9,2.1,2.0,2.2,2.4,2.3,2.1,2.2, 2.4,2.3,2.5,2.6,2.8,2.7,2.9,3.1, 3.0,3.2,3.1,3.3,3.5,3.7,3.6,3.9, 4.1,4.4,4.8,5.0,4.7,4.3,3.9,3.5, 2.9,2.3,1.8,1.5,1.2,1.0,0.9];
const s32 = [1.0,0.9,0.8,0.9,0.8,0.9,0.8,0.7, 0.8,0.7,0.8,0.9,0.8,0.9,1.0,0.9, 1.0,0.9,1.1,1.0,1.2,1.1,1.0,1.1, 1.0,1.1,1.2,1.1,1.0,1.1,0.9,1.0, 1.1,1.0,0.9,1.0,1.1,1.0,0.9,0.8, 0.9,1.0,0.9,1.1,1.2,1.1,1.3,1.4, 1.5,1.4,1.6,1.5,1.7,1.6,1.5,1.4, 1.5,1.4,1.6,1.7,1.6,1.8,1.9,1.8, 2.0,2.1,1.9,2.2,2.0,2.3,2.1,1.9, 2.1,2.0,2.3,2.2,2.4,2.6,2.5,2.7, 2.8,2.7,2.9,3.0,2.8,3.1,3.2,3.0, 3.3,3.1,3.4,3.2,3.5,3.3,3.0,2.8, 2.4,2.0,1.6,1.3,1.1,0.9,0.8];
const s33 = [1.4,1.5,1.4,1.3,1.2,1.3,1.1,1.0, 1.1,1.0,0.9,1.0,0.9,0.8,0.9,1.0, 0.9,1.0,1.1,1.0,1.2,1.1,1.3,1.2, 1.3,1.4,1.3,1.2,1.1,1.0,0.9,1.0, 0.9,0.8,0.9,0.8,0.7,0.8,0.7,0.8, 0.7,0.6,0.7,0.8,0.9,1.0,1.1,1.0, 1.2,1.3,1.2,1.4,1.3,1.5,1.4,1.6, 1.5,1.7,1.9,2.1,2.3,2.5,2.7,2.9, 3.0,2.8,2.6,2.7,2.5,2.4,2.2,2.3, 2.1,2.3,2.2,2.4,2.3,2.5,2.7,2.6, 2.8,2.7,3.0,2.9,3.1,3.0,3.2,3.1, 3.3,3.2,3.5,3.3,3.1,2.9,2.7,2.5, 2.2,1.9,1.6,1.4,1.2,1.1,1.0];

const regionSeries = [s01,s02,s03,s04,s05,s06,s07,s08,s09,s10,s11,s12,s13,s14,s15,s16,s17,
                      s18,s19,s20,s21,s22,s23,s24,s25,s26,s27,s28,s29,s30,s31,s32,s33];
const regionColors = ['#000080','#333399','#FF9900','#FFCC00','#00FFFF','#969696','#003366','#FF99CC',
  '#800080','#FF0000','#008080','#00CCFF','#333300','#0000FF','#FFFF99','#993300','#800000',
  '#00FF00','#003300','#99CCFF','#993366','#33CCCC','#FFFFFF','#FFFF00','#FF00FF','#CC99FF',
  '#339966','#808000','#FF6600','#666699','#3366FF','#99CC00','#FFCC99'];

const kColors = ['#000080','#FF00FF','#FFFF00','#00FFFF','#800080','#800000'];

// ---------- page geometry (pixels → paper fractions) ----------
const W = 1166, H = 1028;
const px = x => x / W;
const py = y => 1 - y / H;
const FONT = 'Liberation Sans, Arial, Helvetica, sans-serif';

const traces = [];

// parameter table: one text mark per cell, laid out on a column/row axis pair
const fmt = v => v.toFixed(3).replace('.', ',');
const tableRows = [tableHeader].concat(kVals.map((k, i) => [String(k), fmt(mVals[i]), fmt(bVals[i])]));
const cellX = [], cellY = [], cellText = [];
tableRows.forEach((row, r) => {
  row.forEach((val, c) => {
    cellX.push(c + 0.5);
    cellY.push(r + 0.55);
    cellText.push((r === 0 || c === 0) ? '<b>' + val + '</b>' : val);
  });
});
traces.push({ type: 'scatter', mode: 'text', x: cellX, y: cellY, text: cellText,
  xaxis: 'x4', yaxis: 'y4', textposition: 'middle center', cliponaxis: false,
  textfont: { family: FONT, size: 19, color: '#000' }, hoverinfo: 'skip' });

// transformed series (top right)
[seriesK1, seriesK2, seriesK3, seriesK4, seriesK5, seriesK6].forEach((s, j) => {
  traces.push({ type: 'scatter', mode: 'lines', x: quarters, y: s, xaxis: 'x', yaxis: 'y',
    line: { color: kColors[j], width: 2 }, hoverinfo: 'skip' });
});

// regional series and mean (bottom left)
regionSeries.forEach((s, j) => {
  traces.push({ type: 'scatter', mode: 'lines', x: quarters, y: s, xaxis: 'x2', yaxis: 'y2',
    line: { color: regionColors[j], width: 1.5 }, hoverinfo: 'skip' });
});
traces.push({ type: 'scatter', mode: 'lines', x: quarters, y: meanSeries, xaxis: 'x2', yaxis: 'y2',
  line: { color: '#000000', width: 3.5 }, hoverinfo: 'skip' });

// response curves (bottom right)
[curveK1, curveK2, curveK3, curveK4, curveK5, curveK6].forEach((c, j) => {
  traces.push({ type: 'scatter', mode: 'lines', x: ratioX, y: c, xaxis: 'x3', yaxis: 'y3',
    line: { color: kColors[j], width: 1.8 }, hoverinfo: 'skip' });
});

// ---------- axes ----------
const timeAxis = (x0, x1, anchor) => ({
  domain: [px(x0), px(x1)], anchor: anchor, type: 'category', range: [0, quarters.length - 1],
  tickvals: timeTicks, ticktext: timeTicks, tickangle: -45,
  ticks: 'outside', ticklen: 6, tickcolor: '#000', tickwidth: 1, ticklabelstandoff: 10,
  showline: true, linecolor: '#000', linewidth: 1, showgrid: false, zeroline: false,
  tickfont: { family: FONT, size: 17, color: '#000' }
});
const levelAxis = (y0, y1, anchor) => ({
  domain: [py(y1), py(y0)], anchor: anchor, range: [0, 7], tick0: 0, dtick: 1,
  ticks: 'outside', ticklen: 5, tickcolor: '#000', tickwidth: 1, ticklabelstandoff: 6,
  showline: true, linecolor: '#000', linewidth: 1,
  showgrid: true, gridcolor: '#000', gridwidth: 1, zeroline: false,
  tickfont: { family: FONT, size: 18, color: '#000' }
});

// ---------- frames and page rules ----------
const shapes = [];
const line = (x0, y0, x1, y1, w, c) => shapes.push({ type: 'line', xref: 'paper', yref: 'paper',
  x0: px(x0), y0: py(y0), x1: px(x1), y1: py(y1), line: { color: c || '#000', width: w }, layer: 'above' });
const box = (x0, y0, x1, y1, w, c, layer, fill) => shapes.push({ type: 'rect', xref: 'paper', yref: 'paper',
  x0: px(x0), y0: py(y1), x1: px(x1), y1: py(y0), line: { color: c || '#000', width: w },
  fillcolor: fill || 'rgba(0,0,0,0)', layer: layer || 'above' });

// white ground under the table grid
box(24, 119, 568, 301, 0, '#fff', 'below', '#ffffff');
// page grid
line(7, 9, 1166, 9, 2.5);
line(7, 9, 7, 1028, 2.5);
line(588, 9, 588, 1028, 2.5);
line(7, 500, 1166, 500, 3);
line(7, 995, 1166, 995, 3);
// chart frames
box(611, 17, 1148, 492, 1.5);
box(30, 511, 567, 984, 1.5);
box(611, 511, 1150, 984, 1.5);
line(612, 984.5, 1150, 984.5, 2.5, '#404040');
line(1150.5, 512, 1150.5, 985, 2, '#404040');
// plot-area borders
box(681, 35, 1147, 405, 1.5, '#808080', 'below');
box(101.6, 527.7, 568, 897, 1.5, '#808080', 'below');
box(671.6, 527.7, 1114.6, 937.7, 1.5, '#808080', 'below');
// table outline
box(24, 119, 568, 301, 2);

const layout = {
  width: W, height: H, margin: { l: 0, r: 0, t: 0, b: 0 },
  paper_bgcolor: '#ffffff', plot_bgcolor: '#C0C0C0',
  font: { family: FONT, color: '#000', size: 17 },
  separators: ', ', showlegend: false,
  xaxis: timeAxis(681, 1147, 'y'),
  yaxis: levelAxis(35, 405, 'x'),
  xaxis2: timeAxis(101.6, 568, 'y2'),
  yaxis2: levelAxis(527.7, 897, 'x2'),
  xaxis3: {
    domain: [px(671.6), px(1114.6)], anchor: 'y3', range: [0.75, 1.2],
    tickvals: ratioTicks, ticktext: ratioTickText,
    ticks: 'outside', ticklen: 6, tickcolor: '#000', tickwidth: 1, ticklabelstandoff: 7,
    showline: true, linecolor: '#000', linewidth: 1, showgrid: false, zeroline: false,
    tickfont: { family: FONT, size: 18, color: '#000' }
  },
  yaxis3: {
    domain: [py(937.7), py(527.7)], anchor: 'x3', range: [0.4, 1.6],
    tickvals: levelTicks, ticktext: levelTickText,
    ticks: 'outside', ticklen: 5, tickcolor: '#000', tickwidth: 1, ticklabelstandoff: 6,
    showline: true, linecolor: '#000', linewidth: 1,
    showgrid: true, gridcolor: '#000', gridwidth: 1, zeroline: false,
    tickfont: { family: FONT, size: 18, color: '#000' }
  },
  // column / row grid of the parameter table
  xaxis4: {
    domain: [px(24), px(568)], anchor: 'y4', range: [0, tableHeader.length], tick0: 0, dtick: 1,
    showgrid: true, gridcolor: '#000', gridwidth: 1, showticklabels: false, ticks: '',
    showline: false, zeroline: false
  },
  yaxis4: {
    domain: [py(301), py(119)], anchor: 'x4', range: [tableRows.length, 0], tick0: 0, dtick: 1,
    showgrid: true, gridcolor: '#000', gridwidth: 1, showticklabels: false, ticks: '',
    showline: false, zeroline: false
  },
  shapes: shapes
};

Plotly.newPlot('page', traces, layout, { staticPlot: true, displayModeBar: false });
</script>
</body>
</html>
